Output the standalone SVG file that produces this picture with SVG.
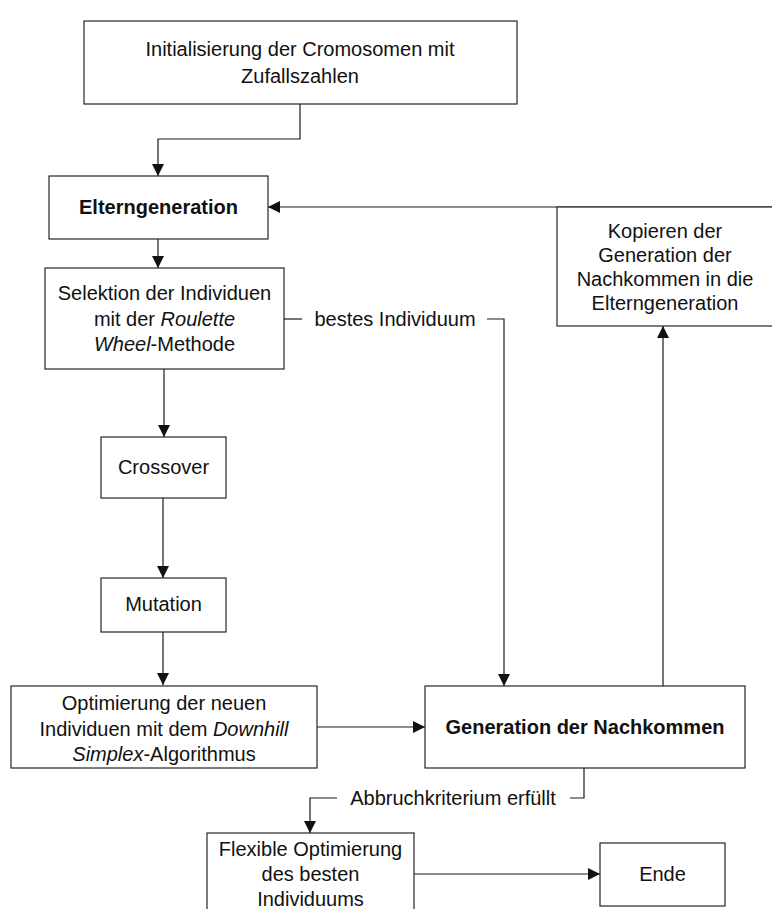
<svg xmlns="http://www.w3.org/2000/svg" width="772" height="909" viewBox="0 0 772 909">
  <style>
    .box { fill: #ffffff; stroke: #262626; stroke-width: 1.2; }
    .line { fill: none; stroke: #1a1a1a; stroke-width: 1.2; }
    .t { font-family: "Liberation Sans", Arial, sans-serif; font-size: 20px; fill: #111111; text-anchor: middle; }
    .b { font-weight: bold; }
    .i { font-style: italic; }
  </style>
  <defs>
    <marker id="arrow" viewBox="0 0 12 12" refX="12" refY="6" markerWidth="12" markerHeight="12" orient="auto" markerUnits="userSpaceOnUse">
      <path d="M0,0 L12,6 L0,12 z" fill="#111111"/>
    </marker>
  </defs>
  <rect width="772" height="909" fill="#ffffff"/>

  <!-- connectors -->
  <g id="connectors">
    <path class="line" d="M300,104 V139 H158 V176" marker-end="url(#arrow)"/>
    <path class="line" d="M772,207 H268" marker-end="url(#arrow)"/>
    <path class="line" d="M158,239 V268" marker-end="url(#arrow)"/>
    <path class="line" d="M164,369 V437" marker-end="url(#arrow)"/>
    <path class="line" d="M163,498 V578" marker-end="url(#arrow)"/>
    <path class="line" d="M163,632 V685" marker-end="url(#arrow)"/>
    <path class="line" d="M317,727 H425" marker-end="url(#arrow)"/>
    <path class="line" d="M284,319 H302"/>
    <path class="line" d="M487,319 H504 V686" marker-end="url(#arrow)"/>
    <text class="t" x="395" y="326">bestes Individuum</text>
    <path class="line" d="M663,686 V326" marker-end="url(#arrow)"/>
    <path class="line" d="M584,768 V798 H570"/>
    <path class="line" d="M337,798 H310 V833" marker-end="url(#arrow)"/>
    <text class="t" x="453" y="805">Abbruchkriterium erfüllt</text>
    <path class="line" d="M414,874 H600" marker-end="url(#arrow)"/>
  </g>

  <!-- nodes -->
  <g id="init">
    <rect class="box" x="84" y="21" width="433" height="83"/>
    <text class="t" x="300" y="56">Initialisierung der Cromosomen mit</text>
    <text class="t" x="300" y="83">Zufallszahlen</text>
  </g>
  <g id="eltern">
    <rect class="box" x="49" y="176" width="219" height="63"/>
    <text class="t b" x="158.5" y="214">Elterngeneration</text>
  </g>
  <g id="kopieren">
    <rect class="box" x="557" y="207" width="225" height="119"/>
    <text class="t" x="665" y="238">Kopieren der</text>
    <text class="t" x="665" y="262">Generation der</text>
    <text class="t" x="665" y="286">Nachkommen in die</text>
    <text class="t" x="665" y="310">Elterngeneration</text>
  </g>
  <g id="selektion">
    <rect class="box" x="45" y="268" width="239" height="101"/>
    <text class="t" x="164.5" y="300">Selektion der Individuen</text>
    <text class="t" x="164.5" y="326">mit der <tspan class="i">Roulette</tspan></text>
    <text class="t" x="164.5" y="351"><tspan class="i">Wheel</tspan>-Methode</text>
  </g>
  <g id="crossover">
    <rect class="box" x="101" y="437" width="125" height="61"/>
    <text class="t" x="163.5" y="474">Crossover</text>
  </g>
  <g id="mutation">
    <rect class="box" x="101" y="578" width="125" height="54"/>
    <text class="t" x="163.5" y="611">Mutation</text>
  </g>
  <g id="optimierung">
    <rect class="box" x="11" y="686" width="306" height="82"/>
    <text class="t" x="164" y="710">Optimierung der neuen</text>
    <text class="t" x="164" y="736">Individuen mit dem <tspan class="i">Downhill</tspan></text>
    <text class="t" x="164" y="761"><tspan class="i">Simplex</tspan>-Algorithmus</text>
  </g>
  <g id="nachkommen">
    <rect class="box" x="425" y="686" width="320" height="82"/>
    <text class="t b" x="585" y="734">Generation der Nachkommen</text>
  </g>
  <g id="flexibel">
    <rect class="box" x="207" y="833" width="207" height="90"/>
    <text class="t" x="310.5" y="856">Flexible Optimierung</text>
    <text class="t" x="310.5" y="881">des besten</text>
    <text class="t" x="310.5" y="906">Individuums</text>
  </g>
  <g id="ende">
    <rect class="box" x="600" y="843" width="125" height="63"/>
    <text class="t" x="662.5" y="881">Ende</text>
  </g>
</svg>
